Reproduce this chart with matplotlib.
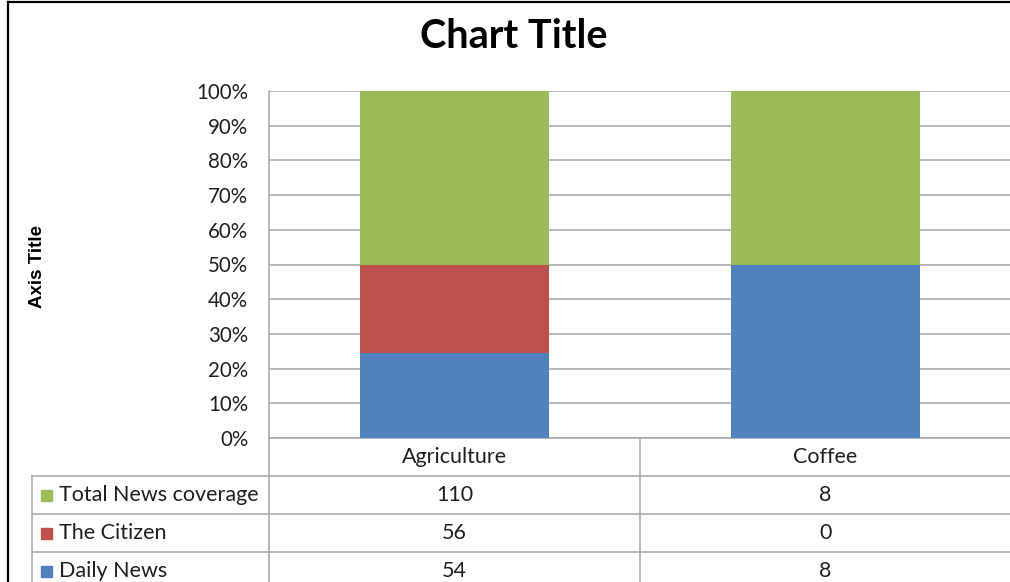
import matplotlib
matplotlib.use("Agg")
import matplotlib.pyplot as plt
from matplotlib.lines import Line2D
from matplotlib.patches import Rectangle
import numpy as np

categories = ["Agriculture", "Coffee"]
series_names = ["Total News coverage", "The Citizen", "Daily News"]
total_news = [110, 8]
the_citizen = [56, 0]
daily_news = [54, 8]
yticks = [0, 10, 20, 30, 40, 50, 60, 70, 80, 90, 100]
colors = {"Total News coverage": "#9BBB59", "The Citizen": "#C0504D", "Daily News": "#4F81BD"}

W, H = 1010, 582
fig = plt.figure(figsize=(W / 100, H / 100), dpi=100)
FONT = ["Lato", "DejaVu Sans"]
TXT = "#1F1F1F"

def fx(x):
    return x / W

def fy(y):
    return 1 - y / H

# plot area (extends beyond right edge like the cropped reference)
ax = fig.add_axes([fx(269), fy(438), 742 / W, 347 / H])
vals = {"Total News coverage": np.array(total_news, float),
        "The Citizen": np.array(the_citizen, float),
        "Daily News": np.array(daily_news, float)}
tot = sum(vals.values())
x = np.arange(len(categories))
bottom = np.zeros(len(categories))
for name in ["Daily News", "The Citizen", "Total News coverage"]:
    pct = vals[name] / tot * 100
    ax.bar(x, pct, width=0.51, bottom=bottom, color=colors[name], zorder=3, linewidth=0)
    bottom += pct

ax.set_xlim(-0.5, 1.5)
ax.set_ylim(0, 100)
ax.set_yticks(yticks)
ax.set_yticklabels([f"{t}%" for t in yticks], fontsize=14.8, family=FONT, color=TXT)
ax.tick_params(axis="y", length=0, pad=15)
ax.set_xticks([])
ax.grid(axis="y", color="#A6A6A6", linewidth=1.1, zorder=0)
for s in ["top", "right"]:
    ax.spines[s].set_visible(False)
for s in ["left", "bottom"]:
    ax.spines[s].set_color("#A6A6A6")
    ax.spines[s].set_linewidth(1.1)

# title and axis title
fig.text(fx(514), fy(36), "Chart Title", ha="center", va="center", fontsize=28.5,
         fontweight="bold", family=FONT, color="black")
fig.text(fx(38), fy(267), "Axis Title", ha="center", va="center", rotation=90,
         fontsize=13.5, fontweight="bold", family=["Liberation Sans", "DejaVu Sans"], color="black")

# data table
lc = "#A6A6A6"
lw = 1.1
def hline(y, x0, x1):
    fig.add_artist(Line2D([fx(x0), fx(x1)], [fy(y), fy(y)], color=lc, lw=lw))
def vline(xp, y0, y1):
    fig.add_artist(Line2D([fx(xp), fx(xp)], [fy(y0), fy(y1)], color=lc, lw=lw))

vline(269, 438, 582)
vline(640, 438, 582)
vline(32, 476, 582)
for yy in [476, 514, 552]:
    hline(yy, 32, 1010)

TFS = 15.5
# category headers, centred under bars using the axes transform
to_fig = ax.transData + fig.transFigure.inverted()
for i, c in enumerate(categories):
    cx = to_fig.transform((x[i], 0))[0]
    fig.text(cx, fy(457), c, ha="center", va="center", fontsize=TFS, family=FONT, color=TXT)

row_y = [495, 533, 571]
for r, name in enumerate(series_names):
    yc = row_y[r]
    fig.add_artist(Rectangle((fx(41), fy(yc + 5.5)), 11 / W, 11 / H, color=colors[name],
                             transform=fig.transFigure))
    fig.text(fx(59), fy(yc), name, ha="left", va="center", fontsize=TFS, family=FONT, color=TXT)
    for i in range(len(categories)):
        cx = to_fig.transform((x[i], 0))[0]
        fig.text(cx, fy(yc), f"{int(vals[name][i])}", ha="center", va="center",
                 fontsize=TFS, family=FONT, color=TXT)

# chart border (black)
fig.add_artist(Line2D([fx(8), fx(8)], [fy(2), fy(582)], color="black", lw=1.6))
fig.add_artist(Line2D([fx(8), fx(1010)], [fy(2), fy(2)], color="black", lw=1.6))

fig.savefig("out.png", dpi=100)
